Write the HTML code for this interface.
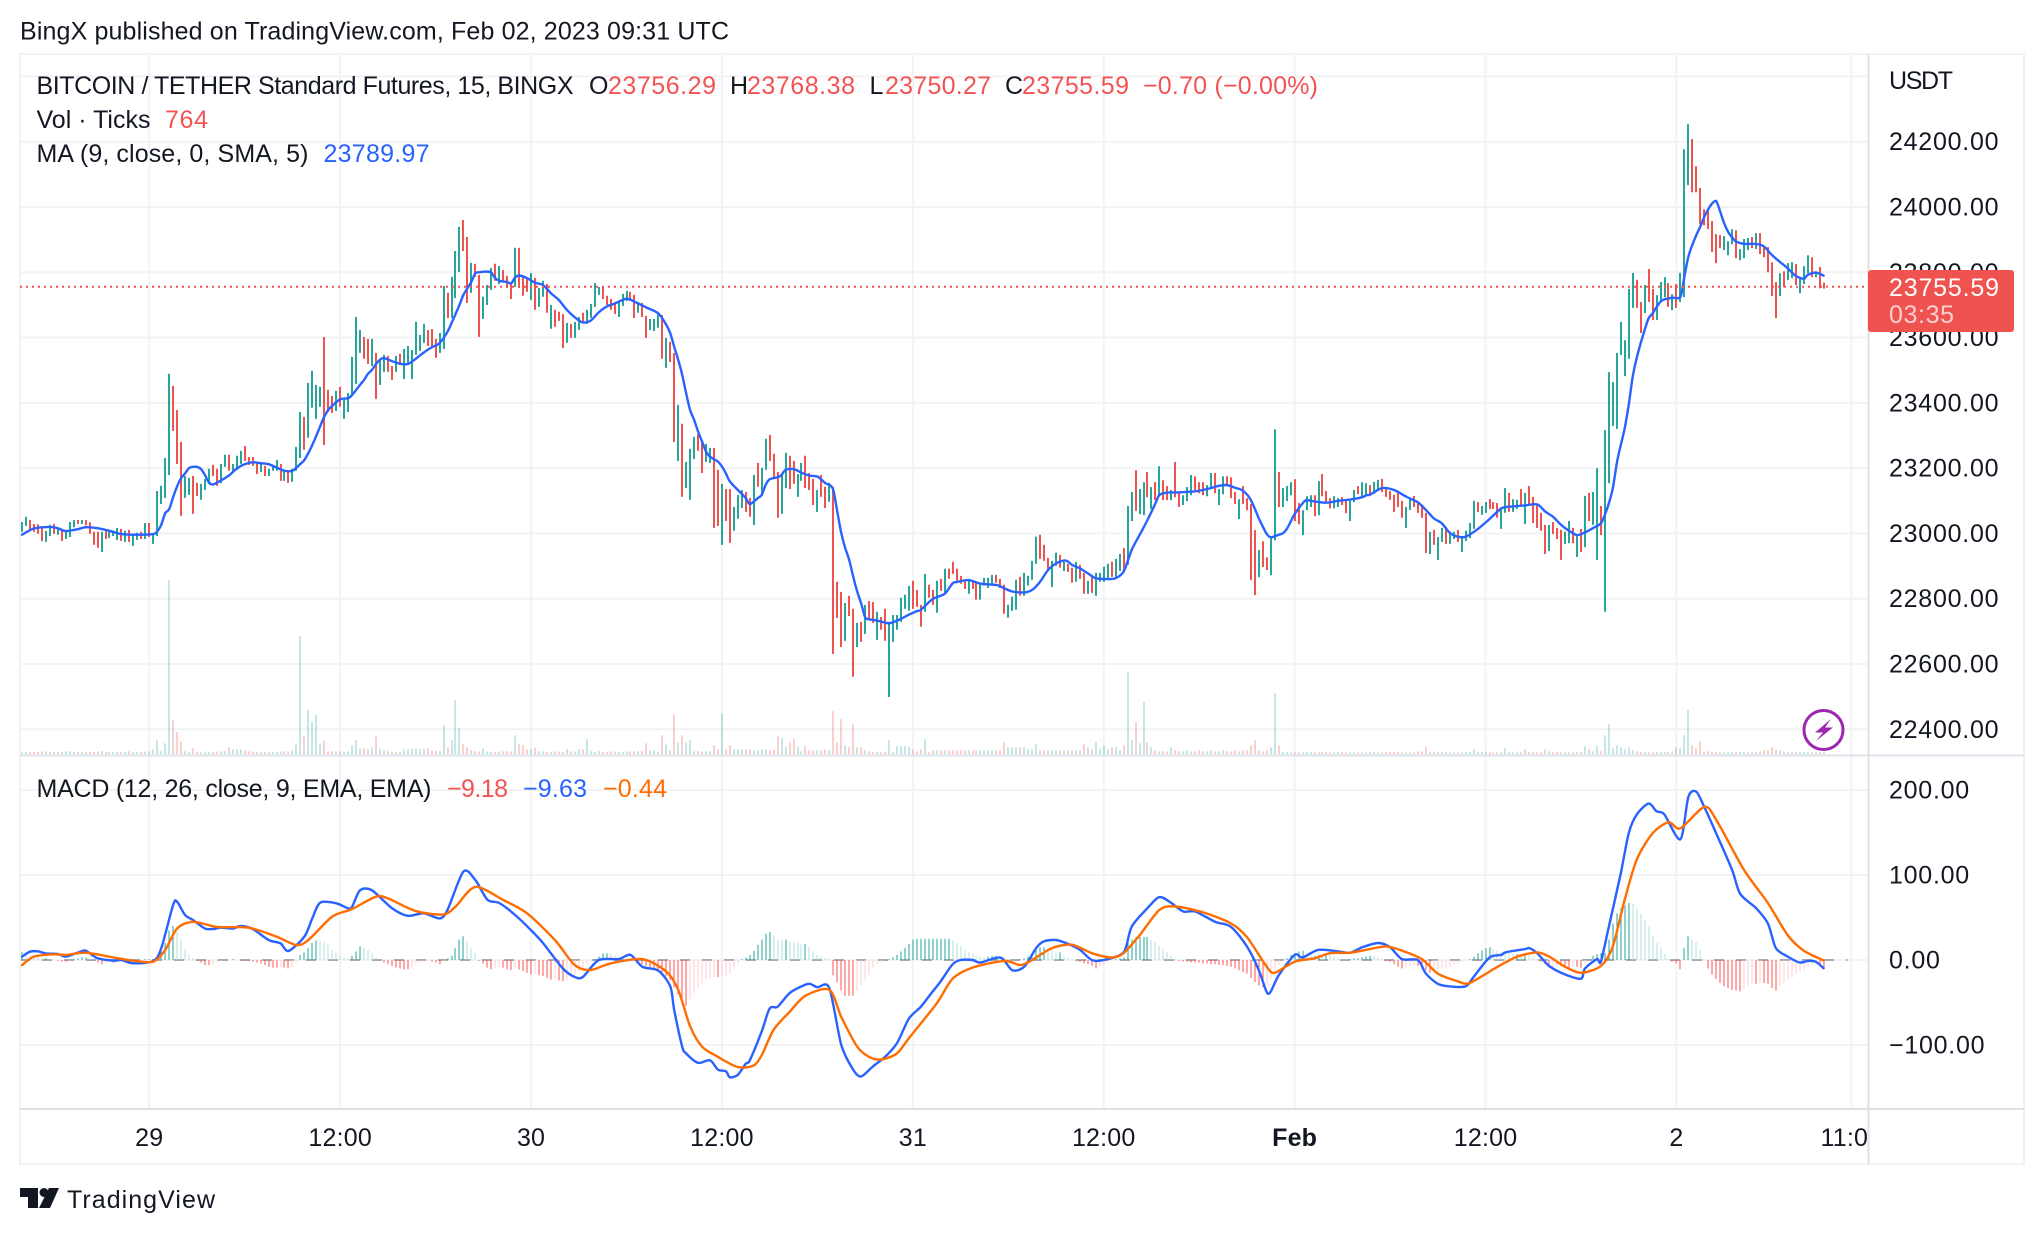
<!DOCTYPE html>
<html lang="en">
<head>
<meta charset="utf-8">
<title>BTC/USDT 15m chart</title>
<style>
html,body{margin:0;padding:0;background:#fff;width:2044px;height:1234px;overflow:hidden}
svg{display:block}
text{font-family:"Liberation Sans",sans-serif;fill:#131722;font-size:25px}
.axis{font-size:25px;letter-spacing:.75px}
.time{font-size:25px;letter-spacing:.2px}
.red{fill:#f35353}.blue{fill:#2962ff}.orange{fill:#ff6d00}
</style>
</head>
<body>
<svg id="chart" xmlns="http://www.w3.org/2000/svg" width="2044" height="1234" viewBox="0 0 2044 1234">
  <defs>
    <clipPath id="clip-main"><rect x="20" y="55" width="1848" height="700"/></clipPath>
    <clipPath id="clip-macd"><rect x="20" y="757" width="1848" height="351"/></clipPath>
    <clipPath id="clip-time"><rect x="20" y="1110" width="1848" height="54"/></clipPath>
  </defs>
  <text x="20" y="39.5" textLength="709" lengthAdjust="spacing">BingX published on TradingView.com, Feb 02, 2023 09:31 UTC</text>
  <g id="grid"></g>
  <g id="volume" clip-path="url(#clip-main)"></g>
  <g id="candles" clip-path="url(#clip-main)"></g>
  <g id="ma" clip-path="url(#clip-main)"></g>
  <g id="macdpane" clip-path="url(#clip-macd)"></g>
  <g id="frame">
    <rect x="19" y="53" width="2006" height="2" fill="#f1f2f5"/>
    <rect x="19" y="53" width="2" height="1112" fill="#f1f2f5"/>
    <rect x="2023" y="53" width="2" height="1112" fill="#f1f2f5"/>
    <rect x="19" y="1163" width="2006" height="2" fill="#f1f2f5"/>
    <rect x="20" y="754.5" width="2004" height="2" fill="#e0e3eb"/>
    <rect x="20" y="1108" width="2004" height="2" fill="#e0e0e3"/>
    <rect x="1867.5" y="54" width="2" height="1110" fill="#e0e0e3"/>
  </g>
  <g id="priceline"></g>
  <g id="pricelabels"></g>
  <g id="macdlabels"></g>
  <g id="timelabels" clip-path="url(#clip-time)"></g>
  <text x="1889" y="89" textLength="64" lengthAdjust="spacing">USDT</text>
  <rect x="1868" y="270" width="146" height="62" rx="3" fill="#ef5350"/>
  <text x="1889" y="296" fill="#fff" style="fill:#fff" textLength="110" lengthAdjust="spacing">23755.59</text>
  <text x="1889" y="323" style="fill:#ffffff;fill-opacity:.72" textLength="65" lengthAdjust="spacing">03:35</text>

  <g>
    <text x="36.5" y="94" textLength="537" lengthAdjust="spacing">BITCOIN / TETHER Standard Futures, 15, BINGX</text>
    <text x="589" y="94">O</text>
    <text class="red" x="608" y="94" textLength="108" lengthAdjust="spacing">23756.29</text>
    <text x="730" y="94">H</text>
    <text class="red" x="747" y="94" textLength="108" lengthAdjust="spacing">23768.38</text>
    <text x="869.5" y="94">L</text>
    <text class="red" x="885" y="94" textLength="106" lengthAdjust="spacing">23750.27</text>
    <text x="1005" y="94">C</text>
    <text class="red" x="1022" y="94" textLength="107" lengthAdjust="spacing">23755.59</text>
    <text class="red" x="1143" y="94" textLength="175" lengthAdjust="spacing">−0.70 (−0.00%)</text>
    <text x="36.5" y="128" textLength="114" lengthAdjust="spacing">Vol · Ticks</text>
    <text class="red" x="165" y="128" textLength="43" lengthAdjust="spacing">764</text>
    <text x="36.5" y="162" textLength="272" lengthAdjust="spacing">MA (9, close, 0, SMA, 5)</text>
    <text class="blue" x="323.5" y="162" textLength="106" lengthAdjust="spacing">23789.97</text>
    <text x="36.5" y="797" textLength="395" lengthAdjust="spacing">MACD (12, 26, close, 9, EMA, EMA)</text>
    <text class="red" x="447" y="797" textLength="61" lengthAdjust="spacing">−9.18</text>
    <text class="blue" x="523" y="797" textLength="64" lengthAdjust="spacing">−9.63</text>
    <text class="orange" x="603" y="797" textLength="64" lengthAdjust="spacing">−0.44</text>
  </g>

  <g>
    <circle cx="1823.5" cy="730" r="19.5" fill="#fff" stroke="#9c27b0" stroke-width="3"/>
    <polygon points="1831,719 1815,732.5 1823,732.5 1816,741 1833,727.5 1825,727.5" fill="#9c27b0"/>
  </g>

  <g>
    <polygon points="20,1188 38,1188 38,1208 28,1208 28,1197 20,1197" fill="#131722"/>
    <circle cx="44" cy="1192.5" r="4.5" fill="#131722"/>
    <polygon points="49,1188 59,1188 50,1208 39,1208" fill="#131722"/>
    <text x="67" y="1208" textLength="148" lengthAdjust="spacing">TradingView</text>
  </g>
</svg>
<script>
const barDirections =
 "GGRRRRGGRG"+"RGGGRGRRRR"+"GRGGGRGRGG"+"RGRGGGGGRR"+"RGGRRGGGRR"+"GGRGGGRRRR"+"GRGGGRGRGG"+"GRGGGGRRRG"+"RGGGGGRRGR"+"GGRRGRGGGG"+
 "GGRRRGGRGG"+"GRRGRRGGGR"+"GRRRGRRRGR"+"GGRGRRRGRG"+"GRGGGGRRRR"+"GGGRRGRRGG"+"GRGRRGRGGG"+"RRGGRRGRRG"+"GGRRGRGGRR"+"RGGRRGGRRR"+
 "GRRGRRRGRR"+"GRGRRGRRGG"+"GGGGRRRGRR"+"GRGRRRRRGR"+"RGGGGRRRGG"+"GRGGGGRRRG"+"GRGRRGRRGR"+"GGGGRGGRGG"+"RGGRGRGRRG"+"RRGGGRRRGG"+
 "RGGRRRGRRR"+"RGRRGGRGGG"+"RRGGGRGRRR"+"GGRRGGRGGR"+"GGRRRRRRGG"+"RRRRGRGGRG"+"GRGGGGRGGR"+"RRGGRGGRGR"+"RRRRGRRRGG"+"RGRGRGGRGG"+
 "GGGGGGRRGR"+"RGGGRGRGGG"+"RRRRRRRRGG"+"GRGGGRGRRR"+"RRGRGGRGGG"+"RGRR";

const barHighs = [
23035,23051,23041,23029,23028,23019,23008,23026,23029,23017,
23008,23006,23035,23041,23041,23041,23041,23034,23005,23005,
23005,23009,23008,23009,23017,23014,23008,23011,22996,23002,
23005,23032,23032,22999,23130,23146,23231,23489,23452,23378,
23280,23176,23170,23176,23155,23152,23167,23198,23210,23198,
23213,23241,23241,23213,23238,23253,23268,23234,23234,23219,
23218,23207,23198,23210,23225,23213,23192,23188,23198,23265,
23372,23357,23461,23498,23455,23449,23602,23440,23421,23437,
23449,23409,23430,23541,23663,23623,23602,23596,23596,23553,
23532,23547,23544,23513,23544,23550,23565,23574,23562,23648,
23608,23642,23623,23626,23596,23614,23758,23737,23786,23865,
23939,23960,23908,23829,23826,23792,23725,23761,23813,23826,
23819,23807,23789,23770,23875,23875,23789,23783,23798,23783,
23752,23774,23764,23700,23685,23679,23672,23645,23642,23648,
23663,23676,23685,23703,23767,23755,23758,23728,23718,23709,
23709,23734,23743,23740,23731,23709,23706,23666,23657,23657,
23676,23669,23599,23587,23553,23394,23336,23219,23259,23296,
23305,23277,23274,23262,23262,23195,23152,23136,23136,23081,
23118,23133,23127,23109,23179,23216,23201,23290,23302,23244,
23188,23182,23247,23238,23222,23182,23216,23238,23185,23167,
23133,23179,23143,23155,23143,22852,22821,22787,22809,22769,
22726,22729,22781,22793,22790,22760,22744,22769,22729,22750,
22750,22803,22812,22839,22855,22827,22781,22876,22843,22827,
22855,22861,22892,22892,22913,22892,22870,22858,22858,22852,
22849,22843,22864,22864,22873,22873,22861,22843,22781,22806,
22858,22867,22879,22870,22916,22990,22996,22965,22925,22916,
22941,22934,22913,22907,22895,22913,22904,22879,22855,22870,
22879,22879,22898,22907,22913,22922,22937,22955,23084,23127,
23194,23136,23157,23188,23142,23157,23206,23163,23145,23133,
23219,23127,23117,23142,23179,23175,23157,23157,23148,23185,
23185,23136,23175,23175,23172,23127,23105,23145,23108,23090,
23010,22949,22976,22927,22992,23319,23188,23139,23145,23157,
23166,23093,23071,23114,23117,23117,23160,23182,23130,23108,
23114,23108,23111,23102,23105,23133,23145,23157,23154,23148,
23158,23164,23167,23139,23130,23118,23127,23100,23081,23109,
23115,23094,23087,23063,23005,23011,22989,23017,23020,23005,
23005,23011,22989,23008,23032,23100,23096,23084,23096,23105,
23096,23093,23072,23139,23124,23105,23103,23136,23124,23145,
23112,23087,23063,23026,23026,23035,23017,23011,23005,23038,
23017,22998,23014,23115,23124,23127,23200,23084,23317,23494,
23464,23553,23648,23592,23749,23798,23777,23709,23761,23810,
23749,23730,23770,23785,23767,23733,23764,23798,24177,24254,
24208,24125,24058,23993,23987,23957,23917,23914,23911,23895,
23932,23929,23871,23902,23905,23908,23920,23920,23877,23877,
23831,23770,23797,23803,23828,23831,23825,23782,23819,23852,
23846,23803,23816,23768];

const barLows = [
23005,23023,23013,23005,22999,22976,22974,22992,22999,22996,
22977,22983,22989,23019,23029,23029,23025,22999,22965,22956,
22943,22983,22986,22992,22980,22977,22974,22974,22962,22980,
22983,22983,22989,22968,22992,23090,23109,23179,23314,23213,
23054,23109,23118,23060,23115,23103,23133,23152,23176,23146,
23154,23204,23192,23188,23195,23212,23222,23210,23207,23182,
23188,23176,23176,23192,23192,23161,23161,23155,23158,23192,
23231,23256,23293,23385,23351,23388,23271,23372,23369,23375,
23388,23351,23372,23424,23458,23553,23535,23519,23513,23412,
23455,23495,23495,23470,23495,23516,23473,23516,23473,23547,
23559,23584,23574,23571,23538,23553,23565,23660,23660,23721,
23801,23865,23706,23737,23786,23602,23657,23700,23746,23774,
23764,23770,23752,23718,23755,23752,23728,23740,23715,23685,
23694,23725,23676,23627,23633,23651,23568,23584,23599,23599,
23623,23645,23642,23660,23694,23731,23718,23700,23685,23672,
23663,23697,23712,23712,23660,23676,23663,23599,23623,23620,
23630,23535,23507,23525,23280,23222,23112,23139,23103,23228,
23253,23185,23219,23216,23017,23023,22965,23038,22971,23008,
23045,23078,23066,23051,23026,23143,23115,23195,23222,23167,
23048,23060,23139,23136,23152,23112,23161,23139,23133,23087,
23066,23112,23078,23097,22631,22741,22652,22671,22747,22561,
22652,22668,22692,22738,22726,22674,22705,22671,22499,22668,
22705,22729,22769,22763,22769,22775,22714,22760,22803,22781,
22757,22824,22818,22861,22876,22855,22846,22830,22815,22830,
22797,22797,22840,22833,22843,22849,22833,22754,22742,22763,
22766,22809,22809,22840,22858,22907,22922,22916,22885,22836,
22901,22895,22885,22882,22849,22852,22861,22815,22815,22818,
22809,22852,22852,22864,22867,22864,22885,22882,22904,23038,
23069,23059,23056,23111,23075,23102,23117,23102,23102,23102,
23111,23081,23087,23099,23117,23133,23123,23117,23114,23139,
23123,23087,23120,23148,23108,23090,23044,23090,23071,22857,
22811,22866,22897,22888,22872,22979,23081,23081,23099,23117,
23038,23028,22995,23071,23081,23053,23056,23114,23093,23077,
23077,23081,23087,23062,23038,23096,23120,23111,23114,23118,
23121,23133,23127,23112,23103,23066,23081,23048,23017,23072,
23081,23063,23048,22940,22937,22965,22919,22974,22968,22968,
22983,22974,22943,22977,22986,23014,23066,23057,23063,23075,
23075,23048,23014,23063,23066,23066,23075,23081,23029,23087,
23032,23017,23008,22937,22946,22998,22983,22919,22968,22970,
22970,22928,22943,22958,23038,23026,22919,22995,22760,23154,
23329,23320,23547,23482,23535,23691,23691,23614,23675,23709,
23654,23654,23715,23724,23694,23684,23691,23709,23724,24067,
24045,24045,23947,23944,23932,23862,23828,23874,23868,23852,
23886,23843,23837,23843,23868,23874,23871,23856,23846,23800,
23727,23660,23727,23754,23776,23782,23761,23736,23764,23797,
23785,23785,23751,23750];

const volumeHundreds = [
7,6,7,7,8,9,8,7,8,7,
8,9,8,7,7,7,6,7,8,8,
10,8,7,7,8,7,8,9,6,7,
8,8,9,14,42,9,33,522,102,66,
39,9,6,18,7,6,6,6,7,8,
8,9,21,15,15,15,12,9,8,7,
6,7,6,7,7,8,9,9,12,33,
354,57,132,96,117,33,42,9,9,8,
9,8,9,27,42,18,18,15,21,54,
15,12,9,8,6,7,15,15,16,18,
15,16,18,12,10,9,87,21,42,162,
78,30,21,12,9,9,18,8,7,8,
8,9,9,9,57,30,27,15,15,20,
9,9,7,7,8,8,7,15,8,8,
15,15,45,9,7,9,8,7,8,8,
7,8,8,8,9,9,10,33,12,12,
8,57,30,12,120,36,57,36,42,9,
10,8,9,9,27,15,123,15,27,15,
15,15,15,15,12,12,15,15,12,15,
54,48,21,36,45,21,9,24,12,12,
12,12,15,12,129,36,105,27,21,90,
21,21,12,9,7,7,6,7,42,6,
24,24,24,21,15,9,15,45,6,12,
12,12,12,12,12,12,12,12,12,12,
12,12,12,12,12,12,12,36,21,21,
21,21,21,15,15,30,12,12,12,12,
12,12,12,12,12,12,12,30,21,15,
36,15,27,15,21,21,12,27,246,42,
96,33,156,36,21,12,9,9,9,21,
12,9,9,12,9,9,12,9,9,12,
9,9,12,9,9,12,9,12,12,27,
42,12,9,12,21,183,27,7,6,6,
6,6,6,7,6,6,6,7,6,6,
6,7,6,6,6,6,6,6,6,7,
6,6,6,7,6,7,6,6,6,6,
6,8,9,21,6,8,6,6,7,6,
6,6,6,7,6,15,6,7,8,6,
6,6,6,18,6,6,6,6,15,8,
6,6,6,15,9,6,7,6,6,6,
6,7,7,24,15,9,24,9,57,90,
18,27,21,15,21,12,9,7,6,6,
6,7,6,7,7,9,21,18,57,132,
27,18,39,8,9,7,7,6,6,6,
6,7,7,7,6,6,7,9,12,12,
21,15,12,9,6,6,7,7,6,6,
6,7,6,7.64];

const maBars = [0,3,7,9,11,14,16,19,22,25,29,33,34,35,36,37,38,39,40,41,42,43,44,45,46,47,48,50,52,54,56,58,60,62,64,66,68,70,71,72,73,74,75,76,77,78,80,82,83,85,86,87,88,89,90,91,93,95,97,99,101,103,105,107,108,109,110,111,112,
113,114,115,117,118,119,120,122,123,124,125,127,129,131,133,135,137,139,141,143,145,147,149,152,154,157,160,162,163,164,165,166,167,168,169,170,171,172,173,175,176,177,178,180,182,183,185,186,187,188,190,191,192,194,196,198,200,202,203,204,205,206,207,208,209,210,211,212,213,215,218,220,221,223,225,
226,229,232,234,235,238,241,245,247,249,252,254,256,258,260,262,263,264,266,268,270,273,275,277,279,281,283,285,286,288,291,295,298,301,303,305,307,309,311,312,313,314,316,317,318,319,320,322,323,325,328,331,334,337,338,
339,342,345,348,351,353,355,357,359,361,363,366,369,372,374,378,381,383,385,387,389,391,393,395,397,398,399,400,401,402,403,404,405,406,407,408,409,410,411,412,413,415,417,418,419,420,421,422,423,424,425,426,427,428,429,430,431,433,436,438,440,442,444,446,448,449,451,453];

const maValues = [22996,23015,23020,23016,23007,23013,23019,23016,23008,22998,22996,22998,23006,23026,23062,23074,23111,23144,23169,23184,23200,23204,23204,23197,23179,23156,23150,23162,23177,23199,23212,23218,23215,23212,23202,23192,23192,23213,23225,23246,23271,23299,23329,23358,23378,23391,23411,23414,23424,23455,23470,23489,23501,23519,23532,23537,23528,23520,23519,23535,23554,23570,23583,23618,23644,23672,23700,23731,23751,
23771,23797,23800,23802,23799,23782,23774,23770,23766,23784,23790,23782,23768,23761,23736,23715,23685,23662,23646,23652,23677,23695,23704,23719,23710,23692,23674,23639,23613,23572,23532,23486,23429,23378,23348,23312,23281,23251,23235,23220,23205,23184,23159,23133,23108,23090,23108,23118,23149,23166,23172,23179,23195,23197,23186,23177,23174,23154,23149,23133,23067,23001,22955,22919,22868,22822,22786,22743,22737,22733,22725,22733,22738,22751,22762,
22766,22799,22815,22847,22851,22857,22846,22842,22832,22822,22819,22827,22852,22888,22908,22917,22914,22904,22893,22878,22863,22860,22863,22883,22949,22995,23041,23092,23118,23125,23126,23129,23136,23146,23148,23140,23131,23102,23046,23021,22998,22988,22996,23000,23013,23036,23059,23092,23102,23098,23094,23100,23104,23111,23117,
23119,23139,23133,23113,23095,23072,23046,23031,23002,22990,22990,23013,23044,23077,23082,23086,23089,23067,23051,23026,23008,22995,23003,23016,23031,23057,23092,23138,23215,23271,23322,23393,23480,23537,23582,23623,23659,23674,23693,23710,23717,23722,23725,23787,23848,23884,23914,23940,23970,23993,24011,24018,23986,23950,23924,23907,23894,23887,23887,23879,23853,23832,23812,23789,23780,23792,23799,23789.97];

const macdBars = [0,2,4,6,9,11,14,16,19,23,25,28,33,35,38,39,41,43,46,48,50,53,55,58,62,65,67,71,73,75,79,82,83,85,88,93,97,101,105,107,111,114,117,120,124,128,131,136,139,141,145,150,153,156,160,163,164,166,167,170,173,175,177,178,180,182,183,186,188,190,193,196,198,200,203,206,209,211,214,217,220,223,226,229,231,234,236,239,241,246,249,252,255,257,260,263,266,269,272,277,279,283,286,289,292,295,300,304,308,311,313,314,316,320,322,326,331,334,337,341,344,347,351,353,356,359,363,365,369,372,373,378,379,381,384,388,392,393,396,397,399,402,404,406,409,411,413,417,419,421,423,426,430,432,436,439,441,444,447,449,451,453];
const macdValues = [3.9,9.8,10.2,7.8,7,4,8.6,11,2,-0.8,0,-3.9,-1.2,13.7,64.7,68.6,52.9,47,37,36.5,38,37,40,36.5,23.5,19.6,10.6,27.5,49,67.5,66.7,60.8,62.7,82,82,61,52,55,49,59,104,94,71,67,53,35,20,-10,-20,-20,0,1,6,-8,-12.5,-31,-59,-102,-110,-121,-118,-129,-131,-138,-135,-122,-118,-84,-57,-55,-39,-31,-28,-32,-33,-100,-129,-137,-125,-114,-98,-69,-55,-37,-25,-5,0,0,-3,3,-12,-8,14,22,23.5,19,12,0,0,9,39,61,74,67,57,57,45,39,16,-12,-38,-37,-18,6,3,12,10,8.6,15,20,15,1,0,-16,-28,-31,-31,-20,3,6,9,13,14,8,-7,-17,-22,-10,1,-2,39,102,149,171,184,175,171,142,192,198,180,149,106,78,61,43,14,4,-3,-1,-2,-9.63];

const signalBars = [0,3,8,11,16,23,28,33,36,39,43,49,57,64,69,72,78,83,89,92,99,106,109,114,121,127,134,139,143,148,156,162,165,168,171,175,180,184,186,189,193,197,203,206,210,213,216,220,223,230,234,239,247,251,254,259,264,269,274,277,281,286,290,297,304,308,313,315,320,325,329,334,338,343,347,352,356,361,364,371,376,381,384,388,392,397,400,403,406,410,414,417,423,426,433,439,444,448,453];
const signalValues = [-6,4,6.7,6,8.6,3,-0.8,-2,11.8,37,45,39,38,27.5,17.6,23.5,51,60,74.5,72.5,57.6,53.7,62.7,86,70.6,55,23.5,-6,-11.8,-4,1,-13.7,-35,-78,-102,-114,-126,-124,-112,-82,-61,-42,-35,-67,-102,-114,-117,-110,-92,-51,-22,-9,-1,-6,0,14,18,8,3,8,29,59,63,56,43,27,-8,-15,-2,2,8,8.6,12,16,11,1,-16,-25,-27,-8,4,9,4,-8,-15,-7,16,71,118,149,162,155,180,165,106,67,29,11,-0.44];

const histValues = [
9,7,5,4,3,2,2,1,0,-1,
-2,-2,-1,1,2,3,3,2,-1,-3,
-5,-4,-3,-3,-2,-1,-1,-2,-2,-1,
0,1,1,1,4,12,20,35,40,33,
24,13,6,2,-1,-3,-6,-6,-5,-3,
-1,0,0,1,0,0,-1,-1,-2,-3,
-4,-6,-8,-9,-9,-8,-9,-10,-8,-3,
6,9,14,20,23,22,21,18,12,8,
5,3,2,5,10,16,14,12,8,3,
0,-3,-5,-7,-9,-10,-11,-11,-8,-5,
-3,-2,-1,-2,-3,-5,-1,2,5,14,
24,28,22,14,8,-1,-4,-9,-11,-10,
-8,-9,-11,-12,-10,-11,-13,-15,-17,-16,
-18,-19,-21,-23,-22,-24,-25,-23,-21,-17,
-13,-9,-5,-2,1,4,8,8,7,5,
3,2,1,1,-1,-3,-5,-7,-9,-10,
-12,-15,-19,-24,-32,-40,-47,-54,-47,-39,
-32,-27,-23,-21,-20,-20,-19,-18,-16,-10,
-4,1,3,6,11,18,24,31,33,28,
24,23,24,22,21,20,18,19,15,10,
6,4,2,1,-18,-26,-36,-42,-42,-42,
-36,-30,-24,-17,-10,-5,-2,0,1,3,
6,10,14,19,24,25,25,25,25,25,
25,25,25,25,23,20,16,12,9,7,
5,4,3,4,5,5,4,2,1,0,
-1,1,2,4,8,12,15,15,13,11,
9,9,5,3,1,-1,-2,-4,-5,-7,
-10,-8,-6,-3,-1,1,2,3,20,24,
27,27,27,27,24,21,17,13,9,5,
2,-1,-2,-2,-3,-3,-3,-4,-4,-5,
-5,-6,-6,-7,-8,-10,-12,-14,-16,-21,
-26,-30,-32,-30,-22,-13,-6,-1,2,6,
8,10,11,7,5,5,6,4,6,5,
4,3,2,1,1,2,2,3,4,5,
4,3,1,-1,-2,-5,-8,-10,-9,-7,
-6,-7,-10,-12,-15,-14,-11,-10,-9,-8,
-6,-4,-2,0,1,4,8,11,14,15,
13,11,10,9,8,7,7,6,6,5,
3,1,-2,-5,-9,-8,-7,-7,-8,-9,
-8,-8,-9,-3,1,5,7,8,8,24,
43,55,61,64,67,66,60,54,47,39,
28,20,14,7,2,-2,-4,-11,14,28,
24,21,12,1,-10,-17,-22,-27,-31,-33,
-35,-36,-37,-34,-31,-28,-28,-27,-27,-28,
-33,-36,-31,-27,-23,-21,-17,-14,-11,-7,
-4,-3,-5,-9.18];

const gridPrices = [24400,24200,24000,23800,23600,23400,23200,23000,22800,22600,22400];
const priceTickLabels = ["24200.00","24000.00","23800.00","23600.00","23400.00","23200.00","23000.00","22800.00","22600.00","22400.00"];
const macdTicks = [200,100,0,-100];
const macdTickLabels = ["200.00","100.00","0.00","−100.00"];
const timeBars = [32,80,128,176,224,272,320,368,416,460];
const timeLabels = ["29","12:00","30","12:00","31","12:00","Feb","12:00","2","11:00"];
const lastPrice = [23755.59];

const NS = "http://www.w3.org/2000/svg";
const GRID_COLOR = "#f2f3f5";
function xOf(i){ return 22 + i * 3.977; }
function priceY(p){ return 141.7 + (24200 - p) * 0.32644; }
function macdY(v){ return 960 - v * 0.85; }
function volHeight(v){ return v / 3; }
function make(parent, tag, attrs){
  const el = document.createElementNS(NS, tag);
  for (const k in attrs) el.setAttribute(k, attrs[k]);
  parent.appendChild(el);
  return el;
}
function smoothPath(bars, values, yFn){
  const pts = bars.map(function(b, k){ return [xOf(b), yFn(values[k])]; });
  let d = "M" + pts[0][0].toFixed(1) + " " + pts[0][1].toFixed(1);
  const t = 0.14;
  for (let i = 0; i < pts.length - 1; i++) {
    const p0 = pts[Math.max(0, i-1)], p1 = pts[i], p2 = pts[i+1], p3 = pts[Math.min(pts.length-1, i+2)];
    const c1x = p1[0] + (p2[0]-p0[0]) * t, c1y = p1[1] + (p2[1]-p0[1]) * t;
    const c2x = p2[0] - (p3[0]-p1[0]) * t, c2y = p2[1] - (p3[1]-p1[1]) * t;
    d += "C" + c1x.toFixed(1) + " " + c1y.toFixed(1) + " " + c2x.toFixed(1) + " " + c2y.toFixed(1) + " " + p2[0].toFixed(1) + " " + p2[1].toFixed(1);
  }
  return d;
}
const gGrid = document.getElementById("grid");
const gVol = document.getElementById("volume");
const gCandles = document.getElementById("candles");
const gMa = document.getElementById("ma");
const gMacd = document.getElementById("macdpane");
const gLine = document.getElementById("priceline");
const gPriceLabels = document.getElementById("pricelabels");
const gMacdLabels = document.getElementById("macdlabels");
const gTime = document.getElementById("timelabels");

gridPrices.forEach(function(p){
  const el = make(gGrid, "rect", {x:20, y:priceY(p)-1, width:1848, height:2, fill:GRID_COLOR});
  
  
});
macdTicks.forEach(function(v){
  const el = make(gGrid, "rect", {x:20, y:macdY(v)-1, width:1848, height:2, fill:GRID_COLOR});
  
  
});
timeBars.forEach(function(b){
  const el = make(gGrid, "rect", {x:xOf(b)-1, y:55, width:2, height:1053, fill:GRID_COLOR});
  
  
});

barHighs.forEach(function(h, i){
  const up = barDirections[i] === "G";
  const top = priceY(h), bottom = priceY(barLows[i]);
  const candle = make(gCandles, "rect", {x:Math.round(xOf(i))-1, y:top, width:2, height:Math.max(1,bottom-top), fill: up ? "#26a69a" : "#ef5350"});
  
  
  const vh = volHeight(volumeHundreds[i]);
  const vol = make(gVol, "rect", {x:Math.round(xOf(i))-0.5, y:754.3-vh, width:1, height:vh, fill: up ? "#26a69a" : "#ef5350", "fill-opacity":0.55});
  
  
});

const maPath = make(gMa, "path", {fill:"none", stroke:"#2962ff", "stroke-width":2.4, "stroke-linejoin":"round", "stroke-linecap":"round",
  d: smoothPath(maBars, maValues, priceY)});



const zeroLine = make(gMacd, "line", {x1:20, x2:xOf(459), y1:macdY(0), y2:macdY(0), stroke:"#a8aab2", "stroke-width":2, "stroke-dasharray":"10 12"});



histValues.forEach(function(v, i){
  const prev = i > 0 ? histValues[i-1] : 0;
  let color;
  if (v >= 0) color = v >= prev ? "#26a69a" : "#b2dfdb";
  else color = v <= prev ? "#ff5252" : "#ffcdd2";
  const y0 = macdY(0), y1 = macdY(v);
  const hist = make(gMacd, "rect", {x:Math.round(xOf(i))-0.5, y:Math.min(y0,y1), width:1, height:Math.abs(y1-y0), fill:color});
  
  
});

const macdPath = make(gMacd, "path", {fill:"none", stroke:"#2962ff", "stroke-width":2.4, "stroke-linejoin":"round", "stroke-linecap":"round",
  d: smoothPath(macdBars, macdValues, macdY)});


const signalPath = make(gMacd, "path", {fill:"none", stroke:"#ff6d00", "stroke-width":2.4, "stroke-linejoin":"round", "stroke-linecap":"round",
  d: smoothPath(signalBars, signalValues, macdY)});



const dotted = make(gLine, "line", {x1:20, x2:1868, y1:priceY(lastPrice[0]), y2:priceY(lastPrice[0]), stroke:"#ef5350", "stroke-width":2, "stroke-dasharray":"2 4"});



priceTickLabels.forEach(function(t){
  const label = make(gPriceLabels, "text", {x:1889, y:priceY(parseFloat(t))+8.5, "class":"axis"});
  label.textContent = t;
  
  
});
macdTickLabels.forEach(function(t, k){
  const label = make(gMacdLabels, "text", {x:1889, y:macdY(macdTicks[k])+8.5, "class":"axis"});
  label.textContent = t;
  
  
});
timeLabels.forEach(function(t, k){
  const label = make(gTime, "text", {x:xOf(timeBars[k]), y:1146, "class":"time", "text-anchor":"middle"});
  label.textContent = t;
  if (t === "Feb") label.setAttribute("font-weight", "700");
  
  
});
</script>
</body>
</html>
